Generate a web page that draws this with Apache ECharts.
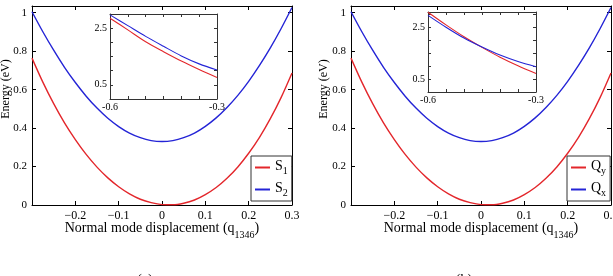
<!DOCTYPE html>
<html><head><meta charset="utf-8">
<script src="https://cdn.jsdelivr.net/npm/echarts@6/dist/echarts.min.js"></script>
<style>html,body{margin:0;padding:0;background:#fff}#c{width:613px;height:276px}</style>
</head><body><div id="c"></div>
<script>
// ---- data ----
const xMain = [-0.3,-0.275,-0.25,-0.225,-0.2,-0.175,-0.15,-0.125,-0.1,-0.075,-0.05,-0.025,0,0.025,0.05,0.075,0.1,0.125,0.15,0.175,0.2,0.225,0.25,0.275,0.3];
const s1Main = [0.764,0.639,0.527,0.427,0.340,0.263,0.197,0.141,0.095,0.058,0.030,0.012,0.002,0.001,0.009,0.026,0.054,0.091,0.139,0.198,0.269,0.352,0.449,0.560,0.687];
const s2Main = [1.005,0.901,0.805,0.716,0.637,0.566,0.504,0.451,0.408,0.374,0.350,0.335,0.330,0.335,0.350,0.374,0.409,0.453,0.507,0.570,0.643,0.726,0.817,0.918,1.027];
const qyMain = [0.764,0.639,0.527,0.427,0.340,0.263,0.197,0.141,0.095,0.058,0.030,0.012,0.002,0.001,0.009,0.026,0.054,0.091,0.139,0.198,0.269,0.352,0.449,0.560,0.687];
const qxMain = [1.005,0.901,0.805,0.716,0.637,0.566,0.504,0.451,0.408,0.374,0.350,0.335,0.330,0.335,0.350,0.374,0.409,0.453,0.507,0.570,0.643,0.726,0.817,0.918,1.027];
const xInset = [-0.6,-0.55,-0.5,-0.45,-0.4,-0.35,-0.3];
const s1Inset = [2.85,2.44,2.02,1.67,1.34,1.04,0.76];
const s2Inset = [2.97,2.59,2.21,1.86,1.52,1.24,1.02];
const qyInset = [3.09,2.60,2.14,1.73,1.35,1.02,0.72];
const qxInset = [2.97,2.51,2.09,1.74,1.43,1.18,0.98];
const legendA = ['S1','S2'];
const legendB = ['Qy','Qx'];
const xTitle = 'Normal mode displacement (q';
const xTitleSub = '1346';
const yTitle = 'Energy (eV)';

const FONT = '"Liberation Serif","Times New Roman",serif';
const RED = '#e3262b', BLUE = '#2424d6';

function pairs(xs, ys){ return xs.map((x,i)=>[x, ys[i]]); }
const fmtMainX = v => { const r = Math.round(v*10)/10; if (r <= -0.3) return ''; if (r === 0) return '0'; return (r<0?'\u2212':'') + Math.abs(r).toString(); };
const fmtMainY = v => { const k = v/0.2; if (Math.abs(k-Math.round(k))>1e-6) return ''; const r = Math.round(Math.round(k)*0.2*10)/10; return r.toString(); };
const fmtInsetX = v => { const r = Math.round(v*100)/100; if (r === -0.6) return '-0.6'; if (r === -0.3) return '-0.3'; return ''; };
const fmtInsetY = v => { const r = Math.round(v*10)/10; if (r === 0.5) return '0.5'; if (r === 2.5) return '2.5'; return ''; };

function mainX(grid, pos, show){
  return { type:'value', gridIndex:grid, position:pos, min:-0.3, max:0.3, interval:0.1,
    axisLine:{show:true,onZero:false,lineStyle:{color:'#000',width:1}},
    axisTick:{show:true,inside:true,length:4,lineStyle:{color:'#000'}},
    axisLabel:{show:show,formatter:fmtMainX,color:'#000',fontFamily:FONT,fontSize:12,margin:5},
    splitLine:{show:false},
    name: show ? '{m|'+xTitle+'}{s|'+xTitleSub+'}{m|)}' : '',
    nameLocation:'middle', nameGap:16, nameMoveOverlap:false,
    nameTextStyle:{fontFamily:FONT,fontSize:14,color:'#000',rich:{
      m:{fontFamily:FONT,fontSize:14,color:'#000',padding:[0,0,5,0]},
      s:{fontFamily:FONT,fontSize:10,color:'#000',verticalAlign:'bottom'}}}
  };
}
function mainY(grid, pos, show){
  return { type:'value', gridIndex:grid, position:pos, min:0, max:1.035, interval:0.2,
    axisLine:{show:true,onZero:false,lineStyle:{color:'#000',width:1}},
    axisTick:{show:true,inside:true,length:4,lineStyle:{color:'#000'}},
    axisLabel:{show:show,formatter:fmtMainY,color:'#000',fontFamily:FONT,fontSize:11,margin:5},
    splitLine:{show:false} };
}
function insetX(grid, pos, show){
  return { type:'value', gridIndex:grid, position:pos, min:-0.6, max:-0.3, interval:0.05,
    axisLine:{show:true,onZero:false,lineStyle:{color:'#333',width:1}},
    axisTick:{show:true,inside:true,length:3,lineStyle:{color:'#333'}},
    axisLabel:{show:show,formatter:fmtInsetX,color:'#000',fontFamily:FONT,fontSize:10,margin:3},
    splitLine:{show:false} };
}
function insetY(grid, pos, show, max){
  return { type:'value', gridIndex:grid, position:pos, min:0, max:max, interval:0.5,
    axisLine:{show:true,onZero:false,lineStyle:{color:'#333',width:1}},
    axisTick:{show:true,inside:true,length:3,lineStyle:{color:'#333'}},
    axisLabel:{show:show,formatter:fmtInsetY,color:'#000',fontFamily:FONT,fontSize:10,margin:3},
    splitLine:{show:false} };
}
function line(name, xi, data, color, w){
  return { name:name, type:'line', xAxisIndex:xi, yAxisIndex:xi, data:data, showSymbol:false, symbol:'none',
    smooth:0.3, color:color, lineStyle:{color:color,width:w}, silent:true, animation:false };
}
function legend(names, left){
  return { data:names, orient:'vertical', left:left, top:156, padding:[3,4,3,4], itemGap:5,
    itemWidth:15, itemHeight:2, icon:'rect', borderColor:'#333', borderWidth:1, backgroundColor:'#fff',
    selectedMode:false, formatter: n => '{m|'+n[0]+'}{s|'+n.slice(1)+'}',
    textStyle:{rich:{
      m:{fontFamily:FONT,fontSize:14,color:'#000',padding:[0,0,3,0]},
      s:{fontFamily:FONT,fontSize:10,color:'#000',verticalAlign:'bottom'}}} };
}

const chart = echarts.init(document.getElementById('c'), null, {renderer:'canvas'});
chart.setOption({
  animation:false,
  backgroundColor:'#fff',
  grid:[
    {left:32, top:6, width:260, height:199, outerBoundsMode:'none', containLabel:false},
    {left:110, top:14, width:107, height:85, outerBoundsMode:'none', containLabel:false, show:true, backgroundColor:'#fff', borderWidth:0},
    {left:351, top:6, width:260, height:199, outerBoundsMode:'none', containLabel:false},
    {left:428, top:12, width:108, height:80, outerBoundsMode:'none', containLabel:false, show:true, backgroundColor:'#fff', borderWidth:0}
  ],
  xAxis:[ mainX(0,'bottom',true), mainX(0,'top',false), insetX(1,'bottom',true), insetX(1,'top',false),
          mainX(2,'bottom',true), mainX(2,'top',false), insetX(3,'bottom',true), insetX(3,'top',false) ],
  yAxis:[ mainY(0,'left',true), mainY(0,'right',false), insetY(1,'left',true,3), insetY(1,'right',false,3),
          mainY(2,'left',true), mainY(2,'right',false), insetY(3,'left',true,3.1), insetY(3,'right',false,3.1) ],
  legend:[ legend(legendA, 251), legend(legendB, 567) ],
  series:[
    line('S1',0,pairs(xMain,s1Main),RED,1.4),
    line('S2',0,pairs(xMain,s2Main),BLUE,1.4),
    line('S1 inset',2,pairs(xInset,s1Inset),RED,1.1),
    line('S2 inset',2,pairs(xInset,s2Inset),BLUE,1.1),
    line('Qy',4,pairs(xMain,qyMain),RED,1.4),
    line('Qx',4,pairs(xMain,qxMain),BLUE,1.4),
    line('Qy inset',6,pairs(xInset,qyInset),RED,1.1),
    line('Qx inset',6,pairs(xInset,qxInset),BLUE,1.1)
  ],
  graphic:[
    {type:'text', x:5.5, y:89, rotation:Math.PI/2, style:{text:yTitle, font:'12px '+FONT, fill:'#000', align:'center', verticalAlign:'middle', textAlign:'center', textVerticalAlign:'middle'}},
    {type:'text', x:323.5, y:89, rotation:Math.PI/2, style:{text:yTitle, font:'12px '+FONT, fill:'#000', align:'center', verticalAlign:'middle', textAlign:'center', textVerticalAlign:'middle'}},
    {type:'text', x:145, y:273, style:{text:'(a)', font:'14px '+FONT, fill:'#000', align:'center', verticalAlign:'top', textAlign:'center', textVerticalAlign:'top'}},
    {type:'text', x:464, y:273, style:{text:'(b)', font:'14px '+FONT, fill:'#000', align:'center', verticalAlign:'top', textAlign:'center', textVerticalAlign:'top'}}
  ]
});
</script></body></html>
